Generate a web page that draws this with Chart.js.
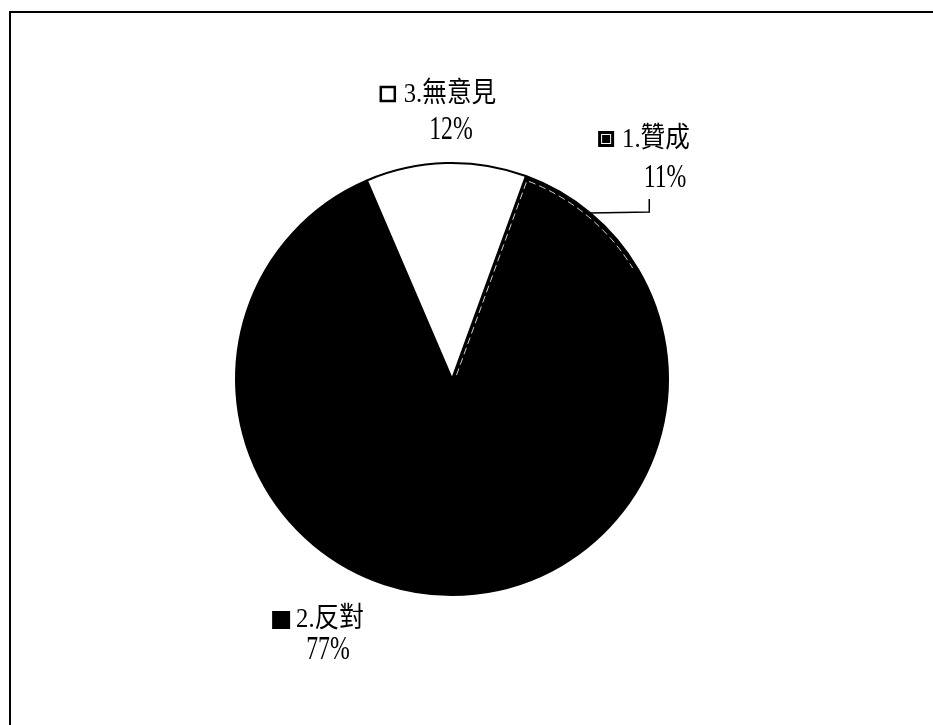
<!DOCTYPE html>
<html>
<head>
<meta charset="utf-8">
<script src="https://cdn.jsdelivr.net/npm/chart.js@4/dist/chart.umd.min.js"></script>
<style>
  body { margin: 0; background: #fff; }
  #wrap { position: relative; width: 933px; height: 725px; overflow: hidden; }
  #frame { position: absolute; left: 9px; top: 11px; width: 960px; height: 760px;
           border-top: 2px solid #000; border-left: 2px solid #000; }
  canvas { position: absolute; left: 0; top: 0; }
</style>
</head>
<body>
<div id="wrap">
  <div id="frame"></div>
  <canvas id="pie"></canvas>
</div>
<script>
// 資料
const categorias = ['1.贊成', '2.反對', '3.無意見'];
const valores = [11, 77, 12];
const cores = ['#000000', '#000000', '#ffffff'];

// posição dos rótulos (relativa ao centro da pizza)
const rotulos = [
  { nome: [204, -239], pct: [213, -201], chave: 'padrao', guia: true },
  { nome: [-122, 241], pct: [-124, 271], chave: 'cheio' },
  { nome: [-2, -284], pct: [-1, -249], chave: 'vazio' }
];

const FONTE = "28px 'Liberation Serif', 'Noto Sans CJK TC'";

function escreve(ctx, txt, cx, cy, sx, sy) {
  ctx.save();
  ctx.translate(cx, cy);
  ctx.scale(sx, sy);
  ctx.font = FONTE;
  ctx.textAlign = 'center';
  ctx.textBaseline = 'middle';
  ctx.fillStyle = '#000';
  ctx.fillText(txt, 0, 0);
  const w = ctx.measureText(txt).width * sx;
  ctx.restore();
  return w;
}

const pluginRotulos = {
  id: 'rotulos',
  afterDatasetsDraw(chart) {
    const ctx = chart.ctx;
    const arcs = chart.getDatasetMeta(0).data;
    const total = valores.reduce((a, b) => a + b, 0);
    arcs.forEach((arc, i) => {
      const { x, y, outerRadius, startAngle, endAngle } = arc.getProps(['x', 'y', 'outerRadius', 'startAngle', 'endAngle'], true);
      const r = rotulos[i];

      // linha tracejada interna na fatia 1
      if (i === 0) {
        ctx.save();
        ctx.strokeStyle = '#cfcfcf';
        ctx.lineWidth = 1;
        ctx.setLineDash([7, 4]);
        ctx.beginPath();
        ctx.moveTo(x + 6 * Math.cos(startAngle + 0.5), y + 6 * Math.sin(startAngle + 0.5));
        ctx.lineTo(x + (outerRadius - 4) * Math.cos(startAngle + 0.012), y + (outerRadius - 4) * Math.sin(startAngle + 0.012));
        ctx.arc(x, y, outerRadius - 4, startAngle + 0.012, endAngle - 0.02);
        ctx.stroke();
        ctx.restore();
      }

      const wNome = escreve(ctx, categorias[i], x + r.nome[0], y + r.nome[1], 0.88, 1);
      escreve(ctx, Math.round(valores[i] / total * 100) + '%', x + r.pct[0], y + r.pct[1], 0.85, 1.2);

      // chave da legenda
      const s = 16;
      const kx = x + r.nome[0] - wNome / 2 - s - 8;
      const ky = y + r.nome[1] - s / 2 - 1;
      ctx.save();
      if (r.chave === 'cheio') {
        ctx.fillStyle = '#000';
        ctx.fillRect(kx, ky, s + 2, s + 2);
      } else if (r.chave === 'vazio') {
        ctx.fillStyle = '#fff';
        ctx.fillRect(kx, ky, s, s);
        ctx.strokeStyle = '#000';
        ctx.lineWidth = 2.5;
        ctx.strokeRect(kx + 1, ky + 1, s - 2, s - 2);
      } else {
        ctx.fillStyle = '#000';
        ctx.fillRect(kx, ky, s, s);
        ctx.strokeStyle = '#fff';
        ctx.lineWidth = 1;
        ctx.strokeRect(kx + 3.5, ky + 3.5, s - 7, s - 7);
      }
      ctx.restore();

      // linha guia
      if (r.guia) {
        const mid = (startAngle + endAngle) / 2;
        const px = x + outerRadius * Math.cos(mid);
        const py = y + outerRadius * Math.sin(mid);
        ctx.save();
        ctx.strokeStyle = '#000';
        ctx.lineWidth = 1.5;
        ctx.beginPath();
        ctx.moveTo(px, py);
        ctx.lineTo(px + 59, py - 1);
        ctx.lineTo(px + 59, py - 14);
        ctx.stroke();
        ctx.restore();
      }
    });
  }
};

const ctx = document.getElementById('pie');
new Chart(ctx, {
  type: 'pie',
  data: {
    labels: categorias,
    datasets: [{
      data: valores,
      backgroundColor: cores,
      borderColor: '#000',
      borderWidth: 2
    }]
  },
  options: {
    responsive: true,
    maintainAspectRatio: false,
    animation: false,
    rotation: 20,
    layout: { padding: { top: 162, bottom: 129, left: 235, right: 264 } },
    plugins: {
      legend: { display: false },
      tooltip: { enabled: false }
    }
  },
  plugins: [pluginRotulos]
});
</script>
</body>
</html>
